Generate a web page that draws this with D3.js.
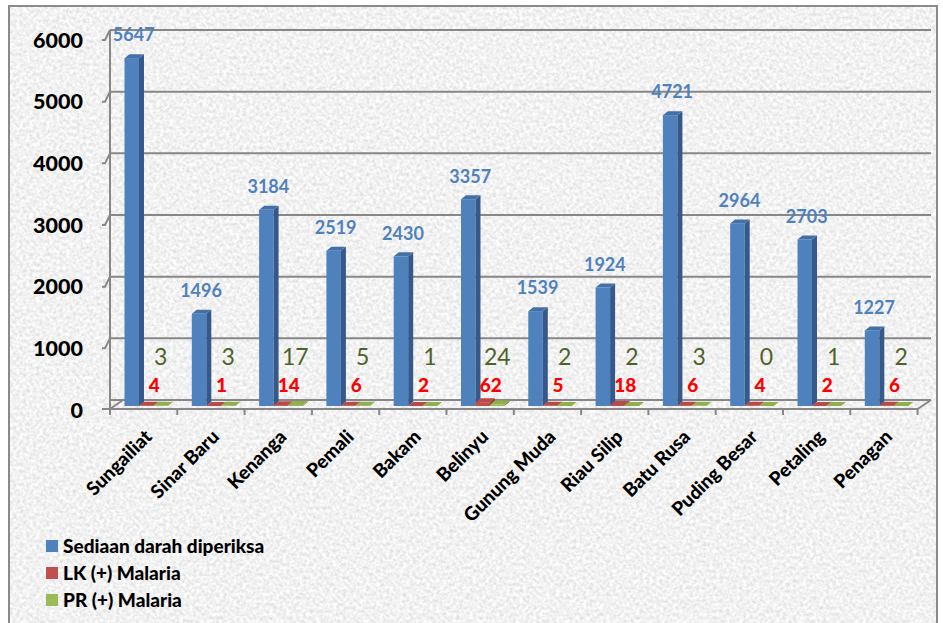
<!DOCTYPE html>
<html>
<head>
<meta charset="utf-8">
<script src="https://cdn.jsdelivr.net/npm/d3@7/dist/d3.min.js"></script>
<style>
html,body{margin:0;padding:0;background:#fff;}
svg{display:block;}
</style>
</head>
<body>
<script>
const categories = ["Sungailiat","Sinar Baru","Kenanga","Pemali","Bakam","Belinyu","Gunung Muda","Riau Silip","Batu Rusa","Puding Besar","Petaling","Penagan"];
const sediaan = [5647,1496,3184,2519,2430,3357,1539,1924,4721,2964,2703,1227];
const lkMalaria = [4,1,14,6,2,62,5,18,6,4,2,6];
const prMalaria = [3,3,17,5,1,24,2,2,3,0,1,2];
const seriesNames = ["Sediaan darah diperiksa","LK (+) Malaria","PR (+) Malaria"];
const yTicks = [0,1000,2000,3000,4000,5000,6000];

const W = 943, H = 623;
const svg = d3.select("body").append("svg").attr("width", W).attr("height", H);

// texture
const defs = svg.append("defs");
const f = defs.append("filter").attr("id","granite").attr("x",0).attr("y",0).attr("width","100%").attr("height","100%");
f.append("feTurbulence").attr("type","fractalNoise").attr("baseFrequency","0.3").attr("numOctaves",3).attr("seed",7).attr("result","n");
f.append("feColorMatrix").attr("in","n").attr("type","matrix")
 .attr("values","0.45 0 0 0 0.66  0.45 0 0 0 0.66  0.45 0 0 0 0.66  0 0 0 0 1");

svg.append("rect").attr("x",9).attr("y",6).attr("width",928).attr("height",620)
  .attr("fill","#e6e6e6").attr("filter","url(#granite)");
svg.append("rect").attr("x",9).attr("y",6).attr("width",928).attr("height",620)
  .attr("fill","none").attr("stroke","#8a8a8a").attr("stroke-width",2);

const font = "Lato, 'Open Sans', sans-serif";
const series = [
  {name: seriesNames[0], values: sediaan, front:"#4f81bd", side:"#36598a", top:"#4470a8"},
  {name: seriesNames[1], values: lkMalaria, front:"#c0504d", side:"#8f3a38", top:"#b84a47"},
  {name: seriesNames[2], values: prMalaria, front:"#9bbb59", side:"#6f8a3c", top:"#8fb04d"}
];

const x = d3.scaleBand().domain(categories).range([110, 917.6]).padding(0);
const xs = d3.scaleBand().domain(seriesNames).range([14.5, 58]).padding(0);
const yBar = d3.scaleLinear().domain([0,6000]).range([406, 36.4]);
const yWall = d3.scaleLinear().domain([0,6000]).range([400, 30]);
const dx = 5, dy = -4;
const gridColor = "#878787";

// back wall gridlines
const g = svg.append("g");
g.selectAll("line.grid").data(yTicks).enter().append("line")
  .attr("x1",110).attr("x2",931).attr("y1",d=>yWall(d)).attr("y2",d=>yWall(d))
  .attr("stroke",gridColor).attr("stroke-width",2);
// vertical axis
g.append("line").attr("x1",110).attr("x2",110).attr("y1",yWall(6000)).attr("y2",413)
  .attr("stroke",gridColor).attr("stroke-width",2);
// tick marks (diagonal)
g.selectAll("path.tick").data(yTicks.filter(d=>d>0)).enter().append("path")
  .attr("d",d=>`M102,${yWall(d)+10} L105,${yWall(d)+10} L110,${yWall(d)}`)
  .attr("fill","none").attr("stroke",gridColor).attr("stroke-width",2);
// floor front edge
g.append("path").attr("d",`M102,409 L917.6,409 L931,400`).attr("fill","none").attr("stroke",gridColor).attr("stroke-width",2);
g.append("path").attr("d",`M110,409 L123,400`).attr("fill","none").attr("stroke",gridColor).attr("stroke-width",2);
// category ticks
g.selectAll("line.ctick").data(categories.map((c,i)=>i).concat([categories.length])).enter().append("line")
  .attr("x1",i=> i<categories.length ? x(categories[i]) : x.range()[1])
  .attr("x2",i=> i<categories.length ? x(categories[i]) : x.range()[1])
  .attr("y1",409).attr("y2",415).attr("stroke",gridColor).attr("stroke-width",2);

// y tick labels
svg.selectAll("text.ylab").data(yTicks).enter().append("text")
  .attr("x",83).attr("y",d=>yWall(d)+10).attr("dy","0.35em")
  .attr("text-anchor","end").attr("font-family",font).attr("font-weight","900")
  .attr("font-size","21.5px").attr("fill","#000").text(d=>d);

// bars
const barsG = svg.append("g");
categories.forEach((c,i)=>{
  series.forEach(s=>{
    const v = s.values[i];
    const bx = x(c) + xs(s.name), w = xs.bandwidth();
    const y0 = yBar(0), y1 = yBar(v);
    const bg = barsG.append("g");
    bg.append("rect").attr("x",bx).attr("y",y1).attr("width",w).attr("height",Math.max(0,y0-y1)).attr("fill",s.front);
    bg.append("path").attr("d",`M${bx+w},${y0} L${bx+w+dx},${y0+dy} L${bx+w+dx},${y1+dy} L${bx+w},${y1} Z`).attr("fill",s.side);
    bg.append("path").attr("d",`M${bx},${y1} L${bx+dx},${y1+dy} L${bx+w+dx},${y1+dy} L${bx+w},${y1} Z`).attr("fill",s.top);
  });
});

// value labels
svg.selectAll("text.vb").data(categories).enter().append("text")
  .attr("x",(c)=>x(c)+xs(seriesNames[0])+xs.bandwidth()/2+2)
  .attr("y",(c,i)=>yBar(sediaan[i])-23).attr("dy","0.35em")
  .attr("text-anchor","middle").attr("font-family",font).attr("font-weight","bold")
  .attr("font-size","18px").attr("fill","#4f81bd").text((c,i)=>sediaan[i]);

svg.selectAll("text.vr").data(categories).enter().append("text")
  .attr("x",(c)=>x(c)+xs(seriesNames[1])+xs.bandwidth()/2+8)
  .attr("y",385).attr("dy","0.35em")
  .attr("text-anchor","middle").attr("font-family",font).attr("font-weight","900")
  .attr("font-size","19px").attr("fill","#ff0000").text((c,i)=>lkMalaria[i]);

svg.selectAll("text.vg").data(categories).enter().append("text")
  .attr("x",(c)=>x(c)+xs(seriesNames[2])+xs.bandwidth()/2)
  .attr("y",357).attr("dy","0.35em")
  .attr("text-anchor","middle").attr("font-family",font).attr("font-weight","normal")
  .attr("font-size","23px").attr("fill","#4f6228").text((c,i)=>prMalaria[i]);

// category labels
svg.selectAll("text.cat").data(categories).enter().append("text")
  .attr("transform",c=>`translate(${x(c)+43},438) rotate(-45)`)
  .attr("text-anchor","end").attr("font-family",font).attr("font-weight","900")
  .attr("font-size","19px").attr("fill","#000").text(c=>c);

// legend
const lg = svg.append("g");
series.forEach((s,i)=>{
  const cy = 546 + i*27;
  lg.append("rect").attr("x",46).attr("y",cy-6).attr("width",12).attr("height",12).attr("fill",s.front);
  lg.append("text").attr("x",63).attr("y",cy).attr("dy","0.35em")
    .attr("font-family",font).attr("font-weight","900").attr("font-size","19px").attr("fill","#000").text(s.name);
});
</script>
</body>
</html>
